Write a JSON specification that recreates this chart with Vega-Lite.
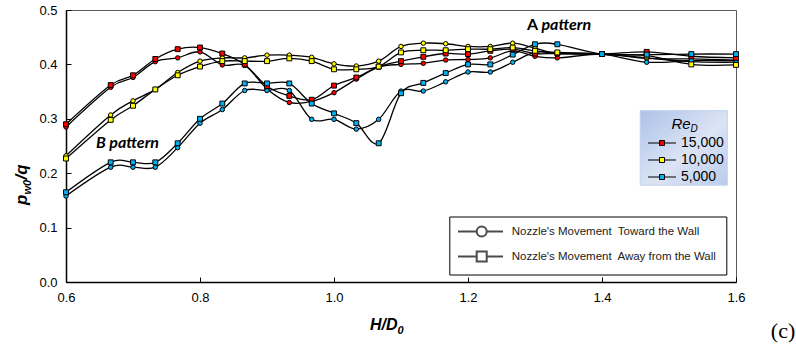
{
  "$schema": "https://vega.github.io/schema/vega-lite/v6.json",
  "width": 670,
  "height": 272,
  "autosize": {"type": "none"},
  "padding": {"left": 66, "top": 10, "right": 60, "bottom": 69},
  "background": "white",
  "config": {
    "view": {"stroke": "#595959", "strokeWidth": 1},
    "font": "Liberation Sans",
    "axisX": {"title": null, "format": ".1f", "domainColor": "black", "domainWidth": 1.5, "tickColor": "black", "tickSize": -5, "tickWidth": 1, "labelFont": "Liberation Sans", "labelFontSize": 13, "labelColor": "black", "labelPadding": 14, "grid": false, "labelFlush": false, "labelOverlap": false},
    "axisY": {"title": null, "format": ".1f", "domainColor": "black", "domainWidth": 1.5, "tickColor": "black", "tickSize": -5, "tickWidth": 1, "labelFont": "Liberation Sans", "labelFontSize": 13, "labelColor": "black", "labelPadding": 14, "grid": false, "labelFlush": false, "labelOverlap": false}
  },
  "datasets": {
    "main": [
      {"x":0.6,"y":0.285,"re":"15,000","dir":"Toward"},{"x":0.6667,"y":0.358,"re":"15,000","dir":"Toward"},{"x":0.7,"y":0.376,"re":"15,000","dir":"Toward"},{"x":0.7333,"y":0.405,"re":"15,000","dir":"Toward"},{"x":0.7667,"y":0.412,"re":"15,000","dir":"Toward"},{"x":0.8,"y":0.423,"re":"15,000","dir":"Toward"},{"x":0.8333,"y":0.399,"re":"15,000","dir":"Toward"},{"x":0.8667,"y":0.398,"re":"15,000","dir":"Toward"},{"x":0.9,"y":0.355,"re":"15,000","dir":"Toward"},{"x":0.9333,"y":0.33,"re":"15,000","dir":"Toward"},{"x":0.9667,"y":0.332,"re":"15,000","dir":"Toward"},{"x":1.0,"y":0.348,"re":"15,000","dir":"Toward"},{"x":1.0333,"y":0.373,"re":"15,000","dir":"Toward"},{"x":1.0667,"y":0.395,"re":"15,000","dir":"Toward"},{"x":1.1,"y":0.4,"re":"15,000","dir":"Toward"},{"x":1.1333,"y":0.402,"re":"15,000","dir":"Toward"},{"x":1.1667,"y":0.408,"re":"15,000","dir":"Toward"},{"x":1.2,"y":0.409,"re":"15,000","dir":"Toward"},{"x":1.2333,"y":0.412,"re":"15,000","dir":"Toward"},{"x":1.2667,"y":0.425,"re":"15,000","dir":"Toward"},{"x":1.3,"y":0.415,"re":"15,000","dir":"Toward"},{"x":1.3333,"y":0.412,"re":"15,000","dir":"Toward"},{"x":1.4,"y":0.419,"re":"15,000","dir":"Toward"},{"x":1.4667,"y":0.411,"re":"15,000","dir":"Toward"},{"x":1.5333,"y":0.41,"re":"15,000","dir":"Toward"},{"x":1.6,"y":0.408,"re":"15,000","dir":"Toward"},
      {"x":0.6,"y":0.29,"re":"15,000","dir":"Away"},{"x":0.6667,"y":0.362,"re":"15,000","dir":"Away"},{"x":0.7,"y":0.38,"re":"15,000","dir":"Away"},{"x":0.7333,"y":0.41,"re":"15,000","dir":"Away"},{"x":0.7667,"y":0.428,"re":"15,000","dir":"Away"},{"x":0.8,"y":0.431,"re":"15,000","dir":"Away"},{"x":0.8333,"y":0.42,"re":"15,000","dir":"Away"},{"x":0.8667,"y":0.4,"re":"15,000","dir":"Away"},{"x":0.9,"y":0.36,"re":"15,000","dir":"Away"},{"x":0.9333,"y":0.342,"re":"15,000","dir":"Away"},{"x":0.9667,"y":0.335,"re":"15,000","dir":"Away"},{"x":1.0,"y":0.361,"re":"15,000","dir":"Away"},{"x":1.0333,"y":0.376,"re":"15,000","dir":"Away"},{"x":1.0667,"y":0.396,"re":"15,000","dir":"Away"},{"x":1.1,"y":0.406,"re":"15,000","dir":"Away"},{"x":1.1333,"y":0.414,"re":"15,000","dir":"Away"},{"x":1.1667,"y":0.42,"re":"15,000","dir":"Away"},{"x":1.2,"y":0.419,"re":"15,000","dir":"Away"},{"x":1.2333,"y":0.425,"re":"15,000","dir":"Away"},{"x":1.2667,"y":0.428,"re":"15,000","dir":"Away"},{"x":1.3,"y":0.42,"re":"15,000","dir":"Away"},{"x":1.3333,"y":0.42,"re":"15,000","dir":"Away"},{"x":1.4,"y":0.419,"re":"15,000","dir":"Away"},{"x":1.4667,"y":0.423,"re":"15,000","dir":"Away"},{"x":1.5333,"y":0.415,"re":"15,000","dir":"Away"},{"x":1.6,"y":0.412,"re":"15,000","dir":"Away"},
      {"x":0.6,"y":0.232,"re":"10,000","dir":"Toward"},{"x":0.6667,"y":0.307,"re":"10,000","dir":"Toward"},{"x":0.7,"y":0.333,"re":"10,000","dir":"Toward"},{"x":0.7333,"y":0.354,"re":"10,000","dir":"Toward"},{"x":0.7667,"y":0.385,"re":"10,000","dir":"Toward"},{"x":0.8,"y":0.406,"re":"10,000","dir":"Toward"},{"x":0.8333,"y":0.412,"re":"10,000","dir":"Toward"},{"x":0.8667,"y":0.412,"re":"10,000","dir":"Toward"},{"x":0.9,"y":0.417,"re":"10,000","dir":"Toward"},{"x":0.9333,"y":0.417,"re":"10,000","dir":"Toward"},{"x":0.9667,"y":0.413,"re":"10,000","dir":"Toward"},{"x":1.0,"y":0.401,"re":"10,000","dir":"Toward"},{"x":1.0333,"y":0.397,"re":"10,000","dir":"Toward"},{"x":1.0667,"y":0.406,"re":"10,000","dir":"Toward"},{"x":1.1,"y":0.433,"re":"10,000","dir":"Toward"},{"x":1.1333,"y":0.439,"re":"10,000","dir":"Toward"},{"x":1.1667,"y":0.438,"re":"10,000","dir":"Toward"},{"x":1.2,"y":0.433,"re":"10,000","dir":"Toward"},{"x":1.2333,"y":0.433,"re":"10,000","dir":"Toward"},{"x":1.2667,"y":0.439,"re":"10,000","dir":"Toward"},{"x":1.3,"y":0.43,"re":"10,000","dir":"Toward"},{"x":1.3333,"y":0.42,"re":"10,000","dir":"Toward"},{"x":1.4,"y":0.419,"re":"10,000","dir":"Toward"},{"x":1.4667,"y":0.412,"re":"10,000","dir":"Toward"},{"x":1.5333,"y":0.405,"re":"10,000","dir":"Toward"},{"x":1.6,"y":0.404,"re":"10,000","dir":"Toward"},
      {"x":0.6,"y":0.227,"re":"10,000","dir":"Away"},{"x":0.6667,"y":0.298,"re":"10,000","dir":"Away"},{"x":0.7,"y":0.324,"re":"10,000","dir":"Away"},{"x":0.7333,"y":0.354,"re":"10,000","dir":"Away"},{"x":0.7667,"y":0.38,"re":"10,000","dir":"Away"},{"x":0.8,"y":0.396,"re":"10,000","dir":"Away"},{"x":0.8333,"y":0.406,"re":"10,000","dir":"Away"},{"x":0.8667,"y":0.406,"re":"10,000","dir":"Away"},{"x":0.9,"y":0.406,"re":"10,000","dir":"Away"},{"x":0.9333,"y":0.411,"re":"10,000","dir":"Away"},{"x":0.9667,"y":0.406,"re":"10,000","dir":"Away"},{"x":1.0,"y":0.391,"re":"10,000","dir":"Away"},{"x":1.0333,"y":0.391,"re":"10,000","dir":"Away"},{"x":1.0667,"y":0.396,"re":"10,000","dir":"Away"},{"x":1.1,"y":0.422,"re":"10,000","dir":"Away"},{"x":1.1333,"y":0.426,"re":"10,000","dir":"Away"},{"x":1.1667,"y":0.426,"re":"10,000","dir":"Away"},{"x":1.2,"y":0.428,"re":"10,000","dir":"Away"},{"x":1.2333,"y":0.428,"re":"10,000","dir":"Away"},{"x":1.2667,"y":0.431,"re":"10,000","dir":"Away"},{"x":1.3,"y":0.425,"re":"10,000","dir":"Away"},{"x":1.3333,"y":0.422,"re":"10,000","dir":"Away"},{"x":1.4,"y":0.419,"re":"10,000","dir":"Away"},{"x":1.4667,"y":0.416,"re":"10,000","dir":"Away"},{"x":1.5333,"y":0.4,"re":"10,000","dir":"Away"},{"x":1.6,"y":0.399,"re":"10,000","dir":"Away"},
      {"x":0.6,"y":0.158,"re":"5,000","dir":"Toward"},{"x":0.6667,"y":0.211,"re":"5,000","dir":"Toward"},{"x":0.7,"y":0.211,"re":"5,000","dir":"Toward"},{"x":0.7333,"y":0.211,"re":"5,000","dir":"Toward"},{"x":0.7667,"y":0.247,"re":"5,000","dir":"Toward"},{"x":0.8,"y":0.292,"re":"5,000","dir":"Toward"},{"x":0.8333,"y":0.317,"re":"5,000","dir":"Toward"},{"x":0.8667,"y":0.352,"re":"5,000","dir":"Toward"},{"x":0.9,"y":0.352,"re":"5,000","dir":"Toward"},{"x":0.9333,"y":0.352,"re":"5,000","dir":"Toward"},{"x":0.9667,"y":0.299,"re":"5,000","dir":"Toward"},{"x":1.0,"y":0.299,"re":"5,000","dir":"Toward"},{"x":1.0333,"y":0.281,"re":"5,000","dir":"Toward"},{"x":1.0667,"y":0.299,"re":"5,000","dir":"Toward"},{"x":1.1,"y":0.351,"re":"5,000","dir":"Toward"},{"x":1.1333,"y":0.351,"re":"5,000","dir":"Toward"},{"x":1.1667,"y":0.368,"re":"5,000","dir":"Toward"},{"x":1.2,"y":0.386,"re":"5,000","dir":"Toward"},{"x":1.2333,"y":0.386,"re":"5,000","dir":"Toward"},{"x":1.2667,"y":0.404,"re":"5,000","dir":"Toward"},{"x":1.3,"y":0.422,"re":"5,000","dir":"Toward"},{"x":1.3333,"y":0.421,"re":"5,000","dir":"Toward"},{"x":1.4,"y":0.419,"re":"5,000","dir":"Toward"},{"x":1.4667,"y":0.404,"re":"5,000","dir":"Toward"},{"x":1.5333,"y":0.407,"re":"5,000","dir":"Toward"},{"x":1.6,"y":0.407,"re":"5,000","dir":"Toward"},
      {"x":0.6,"y":0.165,"re":"5,000","dir":"Away"},{"x":0.6667,"y":0.22,"re":"5,000","dir":"Away"},{"x":0.7,"y":0.22,"re":"5,000","dir":"Away"},{"x":0.7333,"y":0.22,"re":"5,000","dir":"Away"},{"x":0.7667,"y":0.255,"re":"5,000","dir":"Away"},{"x":0.8,"y":0.3,"re":"5,000","dir":"Away"},{"x":0.8333,"y":0.328,"re":"5,000","dir":"Away"},{"x":0.8667,"y":0.365,"re":"5,000","dir":"Away"},{"x":0.9,"y":0.365,"re":"5,000","dir":"Away"},{"x":0.9333,"y":0.365,"re":"5,000","dir":"Away"},{"x":0.9667,"y":0.328,"re":"5,000","dir":"Away"},{"x":1.0,"y":0.31,"re":"5,000","dir":"Away"},{"x":1.0333,"y":0.292,"re":"5,000","dir":"Away"},{"x":1.0667,"y":0.255,"re":"5,000","dir":"Away"},{"x":1.1,"y":0.347,"re":"5,000","dir":"Away"},{"x":1.1333,"y":0.366,"re":"5,000","dir":"Away"},{"x":1.1667,"y":0.384,"re":"5,000","dir":"Away"},{"x":1.2,"y":0.4,"re":"5,000","dir":"Away"},{"x":1.2333,"y":0.4,"re":"5,000","dir":"Away"},{"x":1.2667,"y":0.418,"re":"5,000","dir":"Away"},{"x":1.3,"y":0.437,"re":"5,000","dir":"Away"},{"x":1.3333,"y":0.437,"re":"5,000","dir":"Away"},{"x":1.4,"y":0.419,"re":"5,000","dir":"Away"},{"x":1.4667,"y":0.418,"re":"5,000","dir":"Away"},{"x":1.5333,"y":0.419,"re":"5,000","dir":"Away"},{"x":1.6,"y":0.419,"re":"5,000","dir":"Away"}
    ]
  },
  "data": {"name": "main"},
  "layer": [
    {
      "data": {"values": [{}]},
      "mark": {"type": "rect", "stroke": "#c3d2ee", "strokeWidth": 1, "fill": {"gradient": "linear", "x1": 0, "y1": 0, "x2": 1, "y2": 1, "stops": [{"offset": 0, "color": "#adc2e8"}, {"offset": 0.55, "color": "#dbe4f4"}, {"offset": 1, "color": "#b9cbeb"}]}},
      "encoding": {
        "x": {"datum": 1.457, "type": "quantitative", "scale": {"domain": [0.6, 1.6], "nice": false, "zero": false}, "axis": {"values": [0.6, 0.8, 1.0, 1.2, 1.4, 1.6]}},
        "x2": {"datum": 1.587},
        "y": {"datum": 0.315, "type": "quantitative", "scale": {"domain": [0, 0.5], "nice": false}, "axis": {"values": [0, 0.1, 0.2, 0.3, 0.4, 0.5]}},
        "y2": {"datum": 0.178}
      }
    },
    {
      "mark": {"type": "line", "interpolate": "cardinal", "color": "black", "strokeWidth": 1.3},
      "encoding": {
        "x": {"field": "x", "type": "quantitative", "scale": {"domain": [0.6, 1.6], "nice": false, "zero": false}, "axis": {"values": [0.6, 0.8, 1.0, 1.2, 1.4, 1.6]}},
        "y": {"field": "y", "type": "quantitative", "scale": {"domain": [0, 0.5], "nice": false}, "axis": {"values": [0, 0.1, 0.2, 0.3, 0.4, 0.5]}},
        "detail": [{"field": "re"}, {"field": "dir"}]
      }
    },
    {
      "transform": [{"filter": {"field": "dir", "equal": "Toward"}}],
      "mark": {"type": "point", "shape": "circle", "filled": true, "stroke": "black", "strokeWidth": 1, "size": 20, "opacity": 1},
      "encoding": {
        "x": {"field": "x", "type": "quantitative", "scale": {"domain": [0.6, 1.6], "nice": false, "zero": false}, "axis": {"values": [0.6, 0.8, 1.0, 1.2, 1.4, 1.6]}},
        "y": {"field": "y", "type": "quantitative", "scale": {"domain": [0, 0.5], "nice": false}, "axis": {"values": [0, 0.1, 0.2, 0.3, 0.4, 0.5]}},
        "fill": {"field": "re", "type": "nominal", "scale": {"domain": ["15,000", "10,000", "5,000"], "range": ["#ff0000", "#ffff00", "#00b0f0"]},
                 "legend": {"orient": "none", "legendX": 589, "legendY": 126, "title": null, "symbolType": "M-2.8,0H-0.5M0.5,0H2.8M-0.5,-0.5H0.5V0.5H-0.5Z", "symbolSize": 100, "symbolStrokeColor": "black", "symbolStrokeWidth": 1, "labelFont": "Liberation Sans", "labelFontSize": 14, "labelColor": "black", "labelOffset": 12, "rowPadding": 3, "padding": 0, "labelLimit": 200}}
      }
    },
    {
      "transform": [{"filter": {"field": "dir", "equal": "Away"}}],
      "mark": {"type": "point", "shape": "square", "filled": true, "stroke": "black", "strokeWidth": 1, "size": 24, "opacity": 1},
      "encoding": {
        "x": {"field": "x", "type": "quantitative", "scale": {"domain": [0.6, 1.6], "nice": false, "zero": false}, "axis": {"values": [0.6, 0.8, 1.0, 1.2, 1.4, 1.6]}},
        "y": {"field": "y", "type": "quantitative", "scale": {"domain": [0, 0.5], "nice": false}, "axis": {"values": [0, 0.1, 0.2, 0.3, 0.4, 0.5]}},
        "fill": {"field": "re", "type": "nominal", "scale": {"domain": ["15,000", "10,000", "5,000"], "range": ["#ff0000", "#ffff00", "#00b0f0"]},
                 "legend": {"orient": "none", "legendX": 589, "legendY": 126, "title": null, "symbolType": "M-2.8,0H-0.5M0.5,0H2.8M-0.5,-0.5H0.5V0.5H-0.5Z", "symbolSize": 100, "symbolStrokeColor": "black", "symbolStrokeWidth": 1, "labelFont": "Liberation Sans", "labelFontSize": 14, "labelColor": "black", "labelOffset": 12, "rowPadding": 3, "padding": 0, "labelLimit": 200}}
      }
    },
    {
      "data": {"values": []},
      "mark": {"type": "point", "filled": false, "color": "black", "strokeWidth": 2},
      "encoding": {
        "x": {"field": "x", "type": "quantitative", "scale": {"domain": [0.6, 1.6], "nice": false, "zero": false}, "axis": {"values": [0.6, 0.8, 1.0, 1.2, 1.4, 1.6]}},
        "y": {"field": "y", "type": "quantitative", "scale": {"domain": [0, 0.5], "nice": false}, "axis": {"values": [0, 0.1, 0.2, 0.3, 0.4, 0.5]}},
        "shape": {"field": "dir", "type": "nominal",
                  "scale": {"domain": ["Toward", "Away"], "range": ["M-1.26,0H2.48M4.48,0H7.74M4.48,0A1,1 0 1,1 2.48,0A1,1 0 1,1 4.48,0Z", "M-1.26,0H2.48M4.48,0H7.74M2.48,-1H4.48V1H2.48Z"]},
                  "legend": {"orient": "none", "legendX": 383.3, "legendY": 206.5, "title": null, "symbolSize": 100, "symbolStrokeColor": "black", "symbolStrokeWidth": 2, "symbolFillColor": "white", "labelFont": "Liberation Sans", "labelFontSize": 11.5, "labelColor": "#222222", "labelOffset": 41.4, "rowPadding": 7, "padding": 9, "strokeColor": "black", "fillColor": "white", "labelLimit": 300,
                             "labelExpr": "datum.label == 'Toward' ? \"Nozzle's Movement\u00a0 Toward the Wall\" : \"Nozzle's Movement\u00a0 Away from the Wall\""}}
      }
    },
    {
      "data": {"values": [{}]},
      "mark": {"type": "text", "text": "Re", "align": "left", "baseline": "alphabetic", "font": "Liberation Sans", "fontSize": 15, "fontStyle": "italic", "color": "black"},
      "encoding": {"x": {"datum": 1.5037, "type": "quantitative", "scale": {"domain": [0.6, 1.6], "nice": false, "zero": false}, "axis": {"values": [0.6, 0.8, 1.0, 1.2, 1.4, 1.6]}}, "y": {"datum": 0.282, "type": "quantitative", "scale": {"domain": [0, 0.5], "nice": false}, "axis": {"values": [0, 0.1, 0.2, 0.3, 0.4, 0.5]}}}
    },
    {
      "data": {"values": [{}]},
      "mark": {"type": "text", "text": "D", "align": "left", "baseline": "alphabetic", "font": "Liberation Sans", "fontSize": 10, "fontStyle": "italic", "color": "black", "dx": 19, "dy": 3},
      "encoding": {"x": {"datum": 1.5037, "type": "quantitative", "scale": {"domain": [0.6, 1.6], "nice": false, "zero": false}, "axis": {"values": [0.6, 0.8, 1.0, 1.2, 1.4, 1.6]}}, "y": {"datum": 0.282, "type": "quantitative", "scale": {"domain": [0, 0.5], "nice": false}, "axis": {"values": [0, 0.1, 0.2, 0.3, 0.4, 0.5]}}}
    },
    {
      "data": {"values": [{}]},
      "mark": {"type": "text", "text": "A", "align": "left", "baseline": "alphabetic", "font": "Lato", "fontSize": 16, "fontWeight": "bold", "color": "black"},
      "encoding": {"x": {"datum": 1.288, "type": "quantitative", "scale": {"domain": [0.6, 1.6], "nice": false, "zero": false}, "axis": {"values": [0.6, 0.8, 1.0, 1.2, 1.4, 1.6]}}, "y": {"datum": 0.463, "type": "quantitative", "scale": {"domain": [0, 0.5], "nice": false}, "axis": {"values": [0, 0.1, 0.2, 0.3, 0.4, 0.5]}}}
    },
    {
      "data": {"values": [{}]},
      "mark": {"type": "text", "text": "pattern", "align": "left", "baseline": "alphabetic", "font": "Lato", "fontSize": 16, "fontWeight": "bold", "fontStyle": "italic", "color": "black", "dx": 14.5},
      "encoding": {"x": {"datum": 1.288, "type": "quantitative", "scale": {"domain": [0.6, 1.6], "nice": false, "zero": false}, "axis": {"values": [0.6, 0.8, 1.0, 1.2, 1.4, 1.6]}}, "y": {"datum": 0.463, "type": "quantitative", "scale": {"domain": [0, 0.5], "nice": false}, "axis": {"values": [0, 0.1, 0.2, 0.3, 0.4, 0.5]}}}
    },
    {
      "data": {"values": [{}]},
      "mark": {"type": "text", "text": "B pattern", "align": "left", "baseline": "alphabetic", "font": "Lato", "fontSize": 16, "fontWeight": "bold", "fontStyle": "italic", "color": "black"},
      "encoding": {"x": {"datum": 0.6448, "type": "quantitative", "scale": {"domain": [0.6, 1.6], "nice": false, "zero": false}, "axis": {"values": [0.6, 0.8, 1.0, 1.2, 1.4, 1.6]}}, "y": {"datum": 0.2463, "type": "quantitative", "scale": {"domain": [0, 0.5], "nice": false}, "axis": {"values": [0, 0.1, 0.2, 0.3, 0.4, 0.5]}}}
    },
    {
      "data": {"values": [{}]},
      "mark": {"type": "text", "text": "p", "angle": 270, "align": "left", "baseline": "alphabetic", "font": "Liberation Sans", "fontSize": 17, "fontWeight": "bold", "fontStyle": "italic", "color": "black"},
      "encoding": {"x": {"datum": 0.5418, "type": "quantitative", "scale": {"domain": [0.6, 1.6], "nice": false, "zero": false}, "axis": {"values": [0.6, 0.8, 1.0, 1.2, 1.4, 1.6]}}, "y": {"datum": 0.1415, "type": "quantitative", "scale": {"domain": [0, 0.5], "nice": false}, "axis": {"values": [0, 0.1, 0.2, 0.3, 0.4, 0.5]}}}
    },
    {
      "data": {"values": [{}]},
      "mark": {"type": "text", "text": "w0", "angle": 270, "align": "left", "baseline": "alphabetic", "font": "Liberation Sans", "fontSize": 11, "fontWeight": "bold", "fontStyle": "italic", "color": "black", "dx": 10.4, "dy": 4},
      "encoding": {"x": {"datum": 0.5418, "type": "quantitative", "scale": {"domain": [0.6, 1.6], "nice": false, "zero": false}, "axis": {"values": [0.6, 0.8, 1.0, 1.2, 1.4, 1.6]}}, "y": {"datum": 0.1415, "type": "quantitative", "scale": {"domain": [0, 0.5], "nice": false}, "axis": {"values": [0, 0.1, 0.2, 0.3, 0.4, 0.5]}}}
    },
    {
      "data": {"values": [{}]},
      "mark": {"type": "text", "text": "/q", "angle": 270, "align": "left", "baseline": "alphabetic", "font": "Liberation Sans", "fontSize": 17, "fontWeight": "bold", "fontStyle": "italic", "color": "black", "dx": 25.5},
      "encoding": {"x": {"datum": 0.5418, "type": "quantitative", "scale": {"domain": [0.6, 1.6], "nice": false, "zero": false}, "axis": {"values": [0.6, 0.8, 1.0, 1.2, 1.4, 1.6]}}, "y": {"datum": 0.1415, "type": "quantitative", "scale": {"domain": [0, 0.5], "nice": false}, "axis": {"values": [0, 0.1, 0.2, 0.3, 0.4, 0.5]}}}
    },
    {
      "data": {"values": [{}]},
      "mark": {"type": "text", "text": "H/D", "align": "left", "baseline": "alphabetic", "font": "Liberation Sans", "fontSize": 16, "fontWeight": "bold", "fontStyle": "italic", "color": "black"},
      "encoding": {"x": {"datum": 1.0537, "type": "quantitative", "scale": {"domain": [0.6, 1.6], "nice": false, "zero": false}, "axis": {"values": [0.6, 0.8, 1.0, 1.2, 1.4, 1.6]}}, "y": {"datum": -0.0882, "type": "quantitative", "scale": {"domain": [0, 0.5], "nice": false}, "axis": {"values": [0, 0.1, 0.2, 0.3, 0.4, 0.5]}}}
    },
    {
      "data": {"values": [{}]},
      "mark": {"type": "text", "text": "0", "align": "left", "baseline": "alphabetic", "font": "Liberation Sans", "fontSize": 11, "fontWeight": "bold", "fontStyle": "italic", "color": "black", "dx": 27.5, "dy": 4},
      "encoding": {"x": {"datum": 1.0537, "type": "quantitative", "scale": {"domain": [0.6, 1.6], "nice": false, "zero": false}, "axis": {"values": [0.6, 0.8, 1.0, 1.2, 1.4, 1.6]}}, "y": {"datum": -0.0882, "type": "quantitative", "scale": {"domain": [0, 0.5], "nice": false}, "axis": {"values": [0, 0.1, 0.2, 0.3, 0.4, 0.5]}}}
    },
    {
      "data": {"values": [{}]},
      "mark": {"type": "text", "text": "(c)", "align": "left", "baseline": "alphabetic", "font": "Liberation Serif", "fontSize": 22, "color": "black"},
      "encoding": {"x": {"datum": 1.652, "type": "quantitative", "scale": {"domain": [0.6, 1.6], "nice": false, "zero": false}, "axis": {"values": [0.6, 0.8, 1.0, 1.2, 1.4, 1.6]}}, "y": {"datum": -0.103, "type": "quantitative", "scale": {"domain": [0, 0.5], "nice": false}, "axis": {"values": [0, 0.1, 0.2, 0.3, 0.4, 0.5]}}}
    }
  ]
}
